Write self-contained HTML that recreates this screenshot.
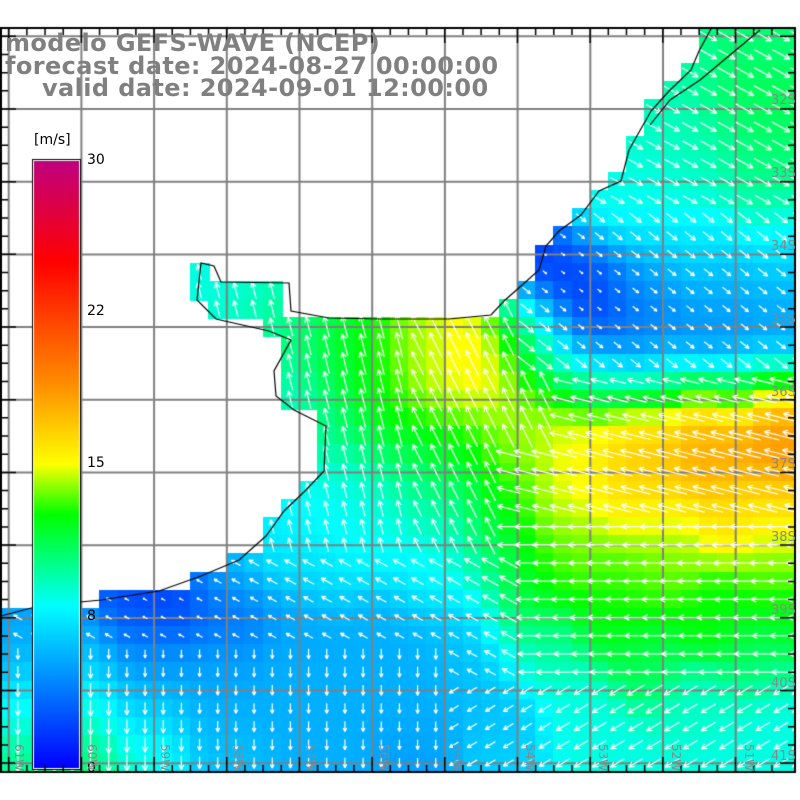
<!DOCTYPE html>
<html><head><meta charset="utf-8">
<style>
html,body{margin:0;padding:0;background:#fff;}
#w{position:relative;width:800px;height:800px;overflow:hidden;font-family:"DejaVu Sans","Liberation Sans",sans-serif;}
canvas{position:absolute;left:0;top:0;}
.t{position:absolute;color:#808080;font-weight:bold;font-size:24px;letter-spacing:0.4px;white-space:nowrap;line-height:1;}
.l{position:absolute;color:#000;font-size:14px;white-space:nowrap;line-height:1;}
.g{position:absolute;color:#888;font-size:13px;white-space:nowrap;line-height:1;}
.r{position:absolute;color:#888;font-size:12px;white-space:nowrap;line-height:1;transform:rotate(90deg);transform-origin:left top;}
</style></head><body><div id="w">
<canvas id="c" width="800" height="800"></canvas>
<div class="t" style="left:5px;top:31px">modelo GEFS-WAVE (NCEP)</div>
<div class="t" style="left:5px;top:54px">forecast date: 2024-08-27 00:00:00</div>
<div class="t" style="left:42px;top:76px">valid date: 2024-09-01 12:00:00</div>
<div class="l" style="left:34px;top:133px">[m/s]</div>
<div class="l" style="left:87px;top:153px">30</div>
<div class="l" style="left:87px;top:304px">22</div>
<div class="l" style="left:87px;top:456px">15</div>
<div class="l" style="left:87px;top:609px">8</div>
<div class="l" style="left:87px;top:761px">0</div>
<div class="g" style="left:771px;top:94px">32S</div>
<div class="g" style="left:771px;top:167px">33S</div>
<div class="g" style="left:771px;top:240px">34S</div>
<div class="g" style="left:771px;top:313px">35S</div>
<div class="g" style="left:771px;top:386px">36S</div>
<div class="g" style="left:771px;top:458px">37S</div>
<div class="g" style="left:771px;top:531px">38S</div>
<div class="g" style="left:771px;top:604px">39S</div>
<div class="g" style="left:771px;top:677px">40S</div>
<div class="g" style="left:771px;top:750px">41S</div>
<div class="r" style="left:25px;top:744px">61W</div>
<div class="r" style="left:98px;top:744px">60W</div>
<div class="r" style="left:171px;top:744px">59W</div>
<div class="r" style="left:244px;top:744px">58W</div>
<div class="r" style="left:317px;top:744px">57W</div>
<div class="r" style="left:390px;top:744px">56W</div>
<div class="r" style="left:463px;top:744px">55W</div>
<div class="r" style="left:536px;top:744px">54W</div>
<div class="r" style="left:609px;top:744px">53W</div>
<div class="r" style="left:682px;top:744px">52W</div>
<div class="r" style="left:755px;top:744px">51W</div>
</div>
<script>
var c=document.getElementById('c'),x=c.getContext('2d');
var P=[[740,40,10.5],[790,40,10.5],[680,70,9.5],[740,100,11],[790,100,11],[660,130,9],[700,130,9.5],[760,150,10.5],[640,180,8.5],[700,180,9],[770,200,10],[600,210,8.5],[640,230,8],[700,240,7.5],[780,240,7.5],
[560,260,2],[600,270,3],[650,270,5.5],[720,280,6],[790,280,6],
[540,300,1.5],[590,300,1.5],[640,300,4],[720,310,5],[790,320,5.5],
[580,340,2],[640,340,4],[720,345,4],[790,350,4],[530,330,8],[540,350,8.5],
[210,280,8.5],[250,300,9],[280,330,10],[290,390,9],[300,420,9],
[320,330,11],[360,340,12.5],[420,340,14],[470,340,15.5],[500,350,16],[520,330,14],
[330,380,11.5],[380,390,12.5],[430,380,14.5],[480,380,15.5],[520,390,14],[560,380,12],[600,380,9.5],[660,385,9],[730,385,11],[790,385,15],
[340,430,11],[400,430,12.5],[460,430,13],[520,430,14],[570,430,15],[640,430,16.5],[700,420,18],[780,420,19],
[340,470,8.5],[400,470,10],[450,470,11.5],[520,470,13.5],[580,470,15.5],[650,470,17],[720,460,18],[790,460,18.5],
[320,510,8],[380,510,8.5],[440,510,9.5],[500,510,12],[560,510,14.5],[650,510,15.5],[740,510,16],[790,510,16],
[280,550,7.5],[360,550,8],[440,550,8.5],[500,550,11.5],[560,550,13.5],[660,550,14],[780,550,14.5],
[230,580,6],[320,580,7],[420,580,7.5],[480,580,9],[530,580,12.5],[640,580,13],[780,580,13],
[0,625,5],[60,625,5],[130,610,2.5],[180,600,2],[230,610,3],[300,620,5],[380,620,5.5],[460,620,6],[520,620,11],[620,620,12.5],[720,620,12.5],[790,620,12],
[20,660,6],[80,660,6.5],[150,660,4.5],[220,660,5],[300,660,5.5],[400,660,5.5],[480,660,6],[540,660,9.5],[640,660,11],[760,660,10.5],
[20,710,8],[80,710,8.5],[150,710,6.5],[220,710,5.5],[320,710,5.5],[420,710,5.5],[500,710,6],[580,710,8.5],[700,710,9],[790,710,8.5],
[20,760,10],[80,760,10.5],[150,760,8.5],[220,760,6],[320,760,5.5],[420,760,5],[500,760,6.5],[600,760,8.5],[720,760,8.5],[790,760,8.5]];
function sp(px,py){var s=0,w=0;for(var i=0;i<P.length;i++){var dx=px-P[i][0],dy=py-P[i][1];var k=Math.exp(-(dx*dx+dy*dy)/(2*26*26));s+=k*P[i][2];w+=k;}return w>1e-9?s/w:6;}
var CS=[[0,0,0,255],[8,0,255,255],[12.5,0,255,0],[15,255,255,0],[19,255,140,0],[25,255,0,0],[30,192,0,128]];
function col(v){v=Math.max(0,Math.min(30,v));for(var i=0;i<CS.length-1;i++){var a=CS[i],b=CS[i+1];if(v<=b[0]){var t=(v-a[0])/(b[0]-a[0]);return 'rgb('+Math.round(a[1]+t*(b[1]-a[1]))+','+Math.round(a[2]+t*(b[2]-a[2]))+','+Math.round(a[3]+t*(b[3]-a[3]))+')';}}return 'rgb(192,0,128)';}
var L=[[0,27],[712,27],[700,50],[690,70],[670,90],[650,110],[630,150],[620,180],[600,190],[580,215],[560,230],[545,245],[540,270],[520,285],[505,300],[490,315],[450,318],[380,318],[330,318],[290,310],[290,282],[220,282],[215,265],[200,262],[198,300],[215,318],[270,330],[290,340],[275,370],[275,395],[295,410],[325,425],[325,470],[305,490],[285,510],[265,535],[240,560],[200,575],[160,590],[100,600],[40,605],[0,615]];
function inL(px,py){var ins=false;for(var i=0,j=L.length-1;i<L.length;j=i++){var xi=L[i][0],yi=L[i][1],xj=L[j][0],yj=L[j][1];if(((yi>py)!=(yj>py))&&(px<(xj-xi)*(py-yi)/(yj-yi)+xi))ins=!ins;}return ins;}
var S=18.17,ox=-9.4,oy=27;
var cells=[];
for(var j=0;j<42;j++)for(var i=0;i<46;i++){var cx=ox+i*S+S/2,cy=oy+j*S+S/2;if(cx>805||cy>772)continue;if(inL(Math.max(cx,1),cy))continue;var v=sp(cx,cy);x.fillStyle=col(v);x.fillRect(Math.floor(ox+i*S),Math.floor(oy+j*S),Math.ceil(S)+1,Math.ceil(S)+1);cells.push([cx,cy,v]);}
x.clearRect(0,772,800,28);x.clearRect(796,0,4,800);
x.strokeStyle='#808080';x.lineWidth=2;
for(var k=0;k<11;k++){var gx=8.7+k*72.7;x.beginPath();x.moveTo(gx,27);x.lineTo(gx,772);x.stroke();var gy=36.3+k*72.7;x.beginPath();x.moveTo(0,gy);x.lineTo(796,gy);x.stroke();}
function dir(px,py){if(py<365&&px>520)return [1,py<200?0.55:0.8];
if(py>=640&&px<450)return [0,1];
if(py>=690&&px>=450)return [-1,0.6];
if(py>=560&&px<520)return [-0.9,-0.5];
if(px>=560||(px>500&&py>440)||py>=600)return [-1,py<520?-0.25:0];
return [px<400?-0.25:-0.5,-1];}
x.strokeStyle='#fff';x.lineWidth=1.2;
cells.forEach(function(p){if(p[0]<0)return;var d=dir(p[0],p[1]);var n=Math.hypot(d[0],d[1]);var ux=d[0]/n,uy=d[1]/n;var len=Math.max(2,p[2]*1.9);var x0=p[0]-ux*len/2,y0=p[1]-uy*len/2,x1=p[0]+ux*len/2,y1=p[1]+uy*len/2;x.beginPath();x.moveTo(x0,y0);x.lineTo(x1,y1);var h=Math.min(6,len*0.4);var a=0.45;for(var s=-1;s<=1;s+=2){var ca=Math.cos(a*s),sa=Math.sin(a*s);var bx=-(ux*ca-uy*sa),by=-(ux*sa+uy*ca);x.moveTo(x1,y1);x.lineTo(x1+bx*h,y1+by*h);}x.stroke();});
x.strokeStyle='#000';x.lineWidth=1.2;x.beginPath();for(var i=1;i<L.length;i++){var p=L[i];if(i==1)x.moveTo(p[0],p[1]);else x.lineTo(p[0]+(i%2?1:-1),p[1]+(i%3?1:0));}x.stroke();
x.beginPath();x.moveTo(760,30);x.lineTo(700,80);x.lineTo(670,100);x.lineTo(650,125);x.stroke();
// colorbar
var g=x.createLinearGradient(0,768,0,160);CS.forEach(function(s){g.addColorStop(s[0]/30,col(s[0]));});
x.fillStyle='#000';x.fillRect(32,159,49,611);x.fillStyle='#fff';x.fillRect(33,160,47,609);x.fillStyle=g;x.fillRect(34,161,45,607);
x.strokeStyle='#000';x.lineWidth=2;x.strokeRect(1,28,794,744);
x.lineWidth=1.5;x.beginPath();
for(var t=0;t<44;t++){var tx=8.7+(t-1)*18.17;if(tx<1||tx>795)continue;var big=((t-1)%4==0);var l=big?15:7;x.moveTo(tx,28);x.lineTo(tx,28+l);x.moveTo(tx,772);x.lineTo(tx,772-l);}
for(var t=0;t<44;t++){var ty=36.3+t*18.17;if(ty>772)continue;var big=(t%4==0);var l=big?15:7;x.moveTo(1,ty);x.lineTo(1+l,ty);x.moveTo(795,ty);x.lineTo(795-l,ty);}
x.stroke();
</script>
</body></html>
